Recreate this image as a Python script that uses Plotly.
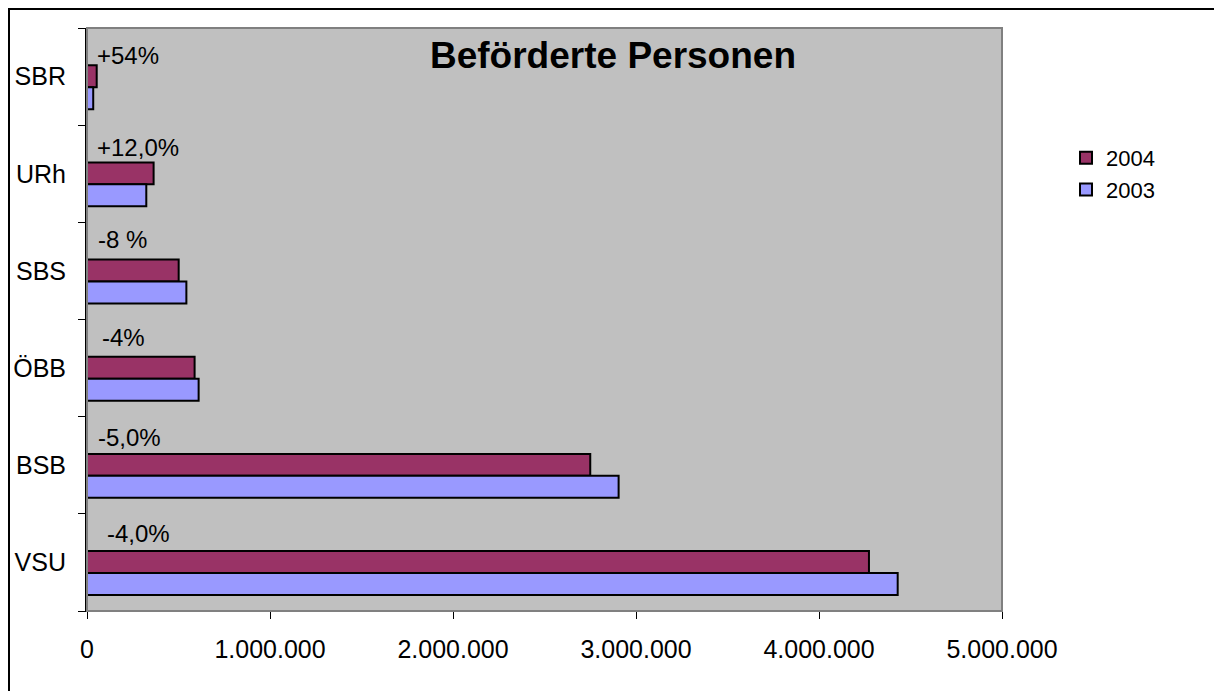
import plotly.graph_objects as go

# ---- data ----
categories = ["VSU", "BSB", "ÖBB", "SBS", "URh", "SBR"]
values_2004 = [4273000, 2750000, 588000, 501000, 364000, 53000]
values_2003 = [4430000, 2905000, 610000, 543000, 324000, 34000]
change_labels = ["-4,0%", "-5,0%", "-4%", "-8 %", "+12,0%", "+54%"]
series_names = ["2004", "2003"]
x_ticks = [0, 1000000, 2000000, 3000000, 4000000, 5000000]
title_text = "Beförderte Personen"

# ---- style ----
FONT = "Liberation Sans, Arial, sans-serif"
col_2004 = "#993366"
col_2003 = "#9999FF"
plot_bg = "#C0C0C0"
bar_w = 0.226
# per-label pixel offsets (xshift, yshift) of the hand-placed change labels
label_offsets = [(18, 29), (9, 28), (13, 31), (9, 31), (8, 26), (8, 21)]

W, H = 1214, 691
PL, PR, PT, PB = 87, 1002, 28, 611  # plot area in pixels
L, T = PL, PT
R = W - PR
B = H - PB
pw = PR - PL
ph = PB - PT

def px_x(x):
    return (x - PL) / pw

def px_y(y):
    return (PB - y) / ph

fig = go.Figure()
fig.add_trace(go.Bar(
    y=categories, x=values_2004, orientation="h", name=series_names[0],
    offset=-0.109, width=bar_w,
    marker=dict(color=col_2004, line=dict(color="black", width=2)),
))
fig.add_trace(go.Bar(
    y=categories, x=values_2003, orientation="h", name=series_names[1],
    offset=-0.335, width=bar_w,
    marker=dict(color=col_2003, line=dict(color="black", width=2)),
))

for cat, lab, (dx, dy) in zip(categories, change_labels, label_offsets):
    fig.add_annotation(
        x=0, y=cat, xref="x", yref="y", text=lab, showarrow=False,
        xanchor="left", yanchor="middle", xshift=dx, yshift=dy,
        font=dict(family=FONT, size=24, color="black"),
    )

# plot area border
fig.add_shape(type="rect", xref="paper", yref="paper", x0=0, x1=1, y0=0, y1=1,
              line=dict(color="#808080", width=2), layer="above")
# outer chart border (extends beyond picture on right/bottom)
fig.add_shape(type="rect", xref="paper", yref="paper",
              x0=px_x(9), x1=px_x(1240), y0=px_y(720), y1=px_y(9),
              line=dict(color="black", width=2), layer="above")

fig.update_layout(
    width=W, height=H,
    margin=dict(l=L, r=R, t=T, b=B, pad=0),
    paper_bgcolor="white", plot_bgcolor=plot_bg,
    barmode="overlay",
    font=dict(family=FONT, size=25, color="black"),
    title=dict(text="<b>" + title_text + "</b>", x=px_x(613), y=px_y(55),
               xref="paper", yref="paper", xanchor="center", yanchor="middle",
               font=dict(family=FONT, size=37, color="black")),
    showlegend=True,
    legend=dict(x=px_x(1066), y=px_y(137), xanchor="left", yanchor="top",
                bgcolor="rgba(0,0,0,0)", traceorder="normal",
                font=dict(family=FONT, size=22, color="black")),
    xaxis=dict(range=[0, 5000000], tickvals=x_ticks, tickformat=",d",
               showgrid=False, zeroline=False, showline=True, linecolor="black", linewidth=1,
               ticks="outside", ticklen=7, tickcolor="black", tickwidth=1,
               ticklabelstandoff=9, fixedrange=True),
    yaxis=dict(type="category", categoryorder="array", categoryarray=categories,
               range=[-0.5, 5.5], tickson="boundaries",
               showgrid=False, zeroline=False, showline=True, linecolor="black", linewidth=2,
               ticks="outside", ticklen=7, tickcolor="black", tickwidth=1,
               ticklabelstandoff=14, fixedrange=True),
    separators=",.",
)

fig.write_html(
    "out.html",
    config={"displayModeBar": False},
    post_script="document.body.style.margin='0';document.body.style.overflow='hidden';",
)
